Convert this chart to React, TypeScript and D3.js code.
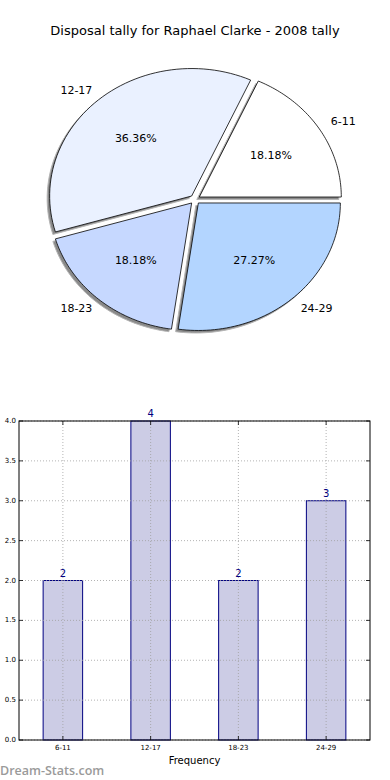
import { useEffect, useRef } from "react";
import * as d3 from "d3";

const categories = ["6-11", "12-17", "18-23", "24-29"];
const counts = [2, 4, 2, 3];
const sliceColors = ["#ffffff", "#eaf1ff", "#c6d8ff", "#b3d5ff"];
const yTicks = [0, 0.5, 1, 1.5, 2, 2.5, 3, 3.5, 4];
const title = "Disposal tally for Raphael Clarke - 2008 tally";

export default function App() {
  const svgRef = useRef<SVGSVGElement>(null);

  useEffect(() => {
    const svg = d3.select(svgRef.current);
    svg.selectAll("*").remove();
    const font = "DejaVu Sans, sans-serif";

    // ---- pie (matplotlib style: ccw from 3 o'clock, elliptical axes)
    const cx = 195, cy = 199.5, rx = 142, ry = 127.5;
    const explode = 0.036;
    const total = d3.sum(counts);
    const pieGen = d3.pie<number>().sort(null).startAngle(0).endAngle(2 * Math.PI);
    const arcs = pieGen(counts);
    const pie = svg.append("g");

    // angles are used as ccw-from-east (matplotlib convention)
    function slicePath(a0: number, a1: number, ox: number, oy: number) {
      const p = d3.path();
      p.moveTo(ox, oy);
      const n = 60;
      for (let i = 0; i <= n; i++) {
        const t = a0 + ((a1 - a0) * i) / n;
        p.lineTo(ox + rx * Math.cos(t), oy - ry * Math.sin(t));
      }
      p.closePath();
      return p.toString();
    }

    const slices = arcs.map((a, i) => {
      const a0 = a.startAngle, a1 = a.endAngle;
      const mid = (a0 + a1) / 2;
      const ox = cx + explode * rx * Math.cos(mid);
      const oy = cy - explode * ry * Math.sin(mid);
      return { a0, a1, mid, ox, oy, i };
    });

    // shadows
    slices.forEach((s) => {
      pie.append("path")
        .attr("d", slicePath(s.a0, s.a1, s.ox - 2.5, s.oy + 2.5))
        .attr("fill", "#8a8a8a")
        .attr("stroke", "#b5b5b5")
        .attr("stroke-width", 1);
    });
    slices.forEach((s) => {
      pie.append("path")
        .attr("d", slicePath(s.a0, s.a1, s.ox, s.oy))
        .attr("fill", sliceColors[s.i])
        .attr("stroke", "#000")
        .attr("stroke-width", 0.8)
        .attr("stroke-linejoin", "round");
    });
    slices.forEach((s) => {
      const c = Math.cos(s.mid), sn = Math.sin(s.mid);
      const lx = cx + (explode + 1.1) * rx * c;
      const ly = cy - (explode + 1.1) * ry * sn;
      pie.append("text")
        .attr("x", lx + (c > 0 ? 0 : 3)).attr("y", ly)
        .attr("text-anchor", c > 0 ? "start" : "end")
        .attr("dominant-baseline", "central")
        .attr("font-family", font).attr("font-size", 11)
        .text(categories[s.i]);
      const px = cx + (explode + 0.6) * rx * c;
      const py = cy - (explode + 0.6) * ry * sn;
      pie.append("text")
        .attr("x", px).attr("y", py)
        .attr("text-anchor", "middle")
        .attr("dominant-baseline", "central")
        .attr("font-family", font).attr("font-size", 11)
        .text(((counts[s.i] / total) * 100).toFixed(2) + "%");
    });

    svg.append("text")
      .attr("x", 195).attr("y", 35)
      .attr("text-anchor", "middle")
      .attr("font-family", font).attr("font-size", 13)
      .text(title);

    // ---- bar chart
    const left = 19, right = 370, top = 421, bottom = 740;
    const x = d3.scaleBand().domain(categories).range([left, right])
      .paddingInner(0.55).paddingOuter(0.275);
    const y = d3.scaleLinear().domain([0, 4]).range([bottom, top]);
    const g = svg.append("g");

    // bars
    g.selectAll(".bar").data(counts).enter().append("rect")
      .attr("x", (_, i) => x(categories[i])!)
      .attr("y", (d) => y(d))
      .attr("width", x.bandwidth())
      .attr("height", (d) => bottom - y(d))
      .attr("fill", "#ccccE5")
      .attr("stroke", "#000080").attr("stroke-width", 1);

    // grid (drawn over bars, like matplotlib's default)
    g.selectAll(".gx").data(categories).enter().append("line")
      .attr("x1", (d) => x(d)! + x.bandwidth() / 2).attr("x2", (d) => x(d)! + x.bandwidth() / 2)
      .attr("y1", top).attr("y2", bottom)
      .attr("stroke", "#a0a0a0").attr("stroke-width", 0.8).attr("stroke-dasharray", "1,2");
    g.selectAll(".gy").data(yTicks).enter().append("line")
      .attr("x1", left).attr("x2", right)
      .attr("y1", (d) => y(d)).attr("y2", (d) => y(d))
      .attr("stroke", "#a0a0a0").attr("stroke-width", 0.8).attr("stroke-dasharray", "1,2");

    g.selectAll(".val").data(counts).enter().append("text")
      .attr("x", (_, i) => x(categories[i])! + x.bandwidth() / 2)
      .attr("y", (d) => y(d) - 4)
      .attr("text-anchor", "middle")
      .attr("font-family", font).attr("font-size", 10)
      .attr("fill", "#000080")
      .text((d) => String(d));

    // frame
    g.append("rect")
      .attr("x", left).attr("y", top)
      .attr("width", right - left).attr("height", bottom - top)
      .attr("fill", "none").attr("stroke", "#000").attr("stroke-width", 1);

    // ticks (inward)
    yTicks.forEach((t) => {
      g.append("line").attr("x1", left).attr("x2", left + 4)
        .attr("y1", y(t)).attr("y2", y(t)).attr("stroke", "#000").attr("stroke-width", 0.8);
      g.append("line").attr("x1", right).attr("x2", right - 4)
        .attr("y1", y(t)).attr("y2", y(t)).attr("stroke", "#000").attr("stroke-width", 0.8);
      g.append("text").attr("x", left - 3).attr("y", y(t))
        .attr("text-anchor", "end").attr("dominant-baseline", "central")
        .attr("font-family", font).attr("font-size", 7)
        .text(t.toFixed(1));
    });
    categories.forEach((c) => {
      const cxp = x(c)! + x.bandwidth() / 2;
      g.append("line").attr("x1", cxp).attr("x2", cxp)
        .attr("y1", bottom).attr("y2", bottom - 4).attr("stroke", "#000").attr("stroke-width", 0.8);
      g.append("line").attr("x1", cxp).attr("x2", cxp)
        .attr("y1", top).attr("y2", top + 4).attr("stroke", "#000").attr("stroke-width", 0.8);
      g.append("text").attr("x", cxp).attr("y", bottom + 10)
        .attr("text-anchor", "middle")
        .attr("font-family", font).attr("font-size", 7)
        .text(c);
    });

    g.append("text").attr("x", (left + right) / 2).attr("y", 764)
      .attr("text-anchor", "middle")
      .attr("font-family", font).attr("font-size", 10)
      .text("Frequency");

    svg.append("text").attr("x", 0).attr("y", 775)
      .attr("font-family", "Open Sans, sans-serif").attr("font-size", 12.5)
      .attr("font-weight", 600).attr("fill", "#9a9a9a")
      .text("Dream-Stats.com");
  }, []);

  return (
    <div style={{ position: "absolute", left: 0, top: 0 }}>
      <svg ref={svgRef} width={390} height={780} style={{ display: "block", background: "#fff" }} />
    </div>
  );
}
